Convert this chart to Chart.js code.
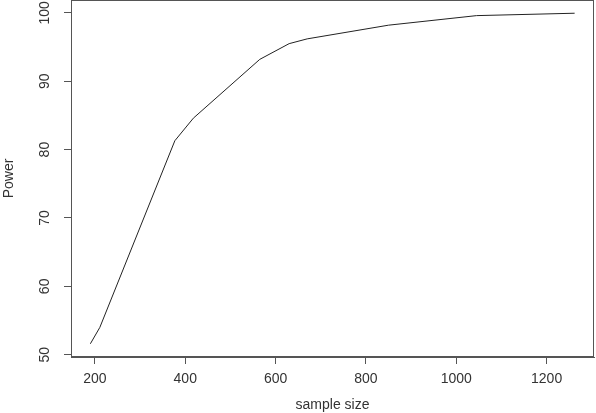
<!DOCTYPE html>
<html>
<head>
<meta charset="utf-8">
<script src="https://cdn.jsdelivr.net/npm/chart.js@4/dist/chart.umd.min.js"></script>
<style>
  html, body { margin: 0; padding: 0; background: #fff; }
  #wrap { width: 596px; height: 413px; }
</style>
</head>
<body>
<div id="wrap"><canvas id="powerChart"></canvas></div>
<script>
// === data ===
const sampleSize = [190, 211, 377, 418, 565, 630, 670, 850, 1045, 1262];
const power = [51.6, 54.0, 81.3, 84.6, 93.2, 95.5, 96.2, 98.2, 99.6, 99.95];
const xTicks = [200, 400, 600, 800, 1000, 1200];
const yTicks = [50, 60, 70, 80, 90, 100];

// R style axis range: data range plus 4% on each side
function rRange(vals) {
  const lo = Math.min(...vals), hi = Math.max(...vals);
  const pad = (hi - lo) * 0.04;
  return [lo - pad, hi + pad];
}
const [xMin, xMax] = rRange(sampleSize);
const [yMin, yMax] = rRange(power);

const ink = '#333';
const font = { family: 'Liberation Sans, Arial, sans-serif', size: 14 };

// === box round the plot area ===
const boxPlugin = {
  id: 'box',
  afterDraw(chart) {
    const { ctx, chartArea: a } = chart;
    ctx.save();
    ctx.strokeStyle = '#555';
    ctx.lineWidth = 1;
    ctx.strokeRect(a.left + 0.5, a.top + 0.5, a.right - a.left - 1, a.bottom - a.top - 1);
    ctx.restore();
  }
};

new Chart(document.getElementById('powerChart'), {
  type: 'line',
  data: {
    datasets: [{
      data: sampleSize.map((x, i) => ({ x, y: power[i] })),
      borderColor: '#222',
      borderWidth: 1,
      pointRadius: 0,
      tension: 0,
      fill: false
    }]
  },
  options: {
    responsive: true,
    maintainAspectRatio: false,
    animation: false,
    layout: { padding: { top: 0, right: 2, bottom: 0, left: 0 } },
    plugins: { legend: { display: false }, tooltip: { enabled: false } },
    scales: {
      x: {
        type: 'linear',
        min: xMin,
        max: xMax,
        afterBuildTicks: s => { s.ticks = xTicks.map(v => ({ value: v })); },
        afterFit: s => { s.height = 56; s.paddingLeft = 0; s.paddingRight = 0; },
        ticks: { color: ink, font, padding: 7, maxRotation: 0, autoSkip: false, callback: v => String(v) },
        grid: { drawOnChartArea: false, drawTicks: true, tickLength: 7, color: '#555' },
        border: { display: true, color: '#555' },
        title: { display: true, text: 'sample size', color: ink, font, padding: { top: 0, bottom: -1 } }
      },
      y: {
        type: 'linear',
        min: yMin,
        max: yMax,
        afterBuildTicks: s => { s.ticks = yTicks.map(v => ({ value: v })); },
        afterFit: s => { s.width = 71; s.paddingTop = 0; s.paddingBottom = 0; },
        ticks: { color: ink, font, padding: 7, minRotation: 90, maxRotation: 90, crossAlign: 'center', autoSkip: false, callback: v => String(v) },
        grid: { drawOnChartArea: false, drawTicks: true, tickLength: 7, color: '#555' },
        border: { display: true, color: '#555' },
        title: { display: true, text: 'Power', color: ink, font, padding: { top: 1, bottom: 0 } }
      }
    }
  },
  plugins: [boxPlugin]
});
</script>
</body>
</html>
